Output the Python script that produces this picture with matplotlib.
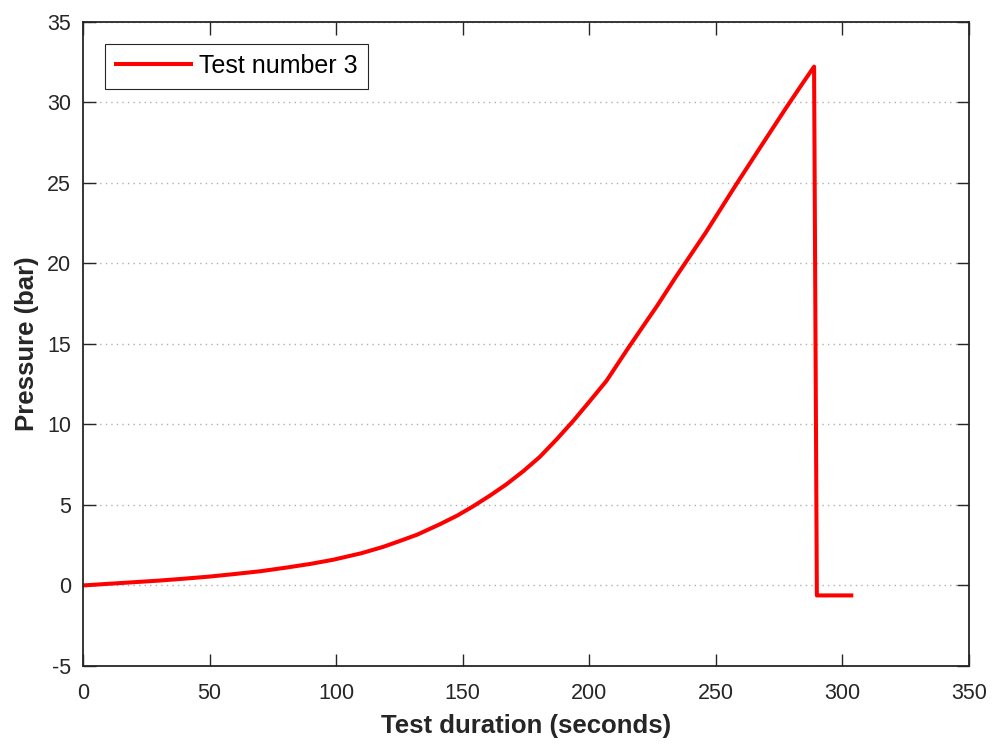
import matplotlib
matplotlib.use("Agg")
import matplotlib.pyplot as plt

# Data
time_s = [0, 10, 20, 30, 40, 50, 60, 70, 80, 90, 99, 110, 118.5, 125, 132, 141,
          148, 154, 161, 167.3, 174, 180.4, 187, 193.6, 200, 206.8, 214.8, 220,
          227, 234, 246, 258.3, 268, 278, 284, 288.8, 289.9, 303.5]
pressure_bar = [0, 0.1, 0.2, 0.3, 0.42, 0.55, 0.71, 0.88, 1.1, 1.34, 1.6, 2.0,
                2.39, 2.75, 3.15, 3.8, 4.35, 4.9, 5.6, 6.28, 7.1, 7.97, 9.05, 10.2,
                11.4, 12.7, 14.6, 15.8, 17.4, 19.1, 21.9, 24.95, 27.3, 29.7, 31.1,
                32.2, -0.62, -0.62]
series_label = "Test number 3"
x_ticks = [0, 50, 100, 150, 200, 250, 300, 350]
y_ticks = [-5, 0, 5, 10, 15, 20, 25, 30, 35]

plt.rcParams['font.family'] = ['Liberation Sans', 'DejaVu Sans']
plt.rcParams['axes.unicode_minus'] = False
txt = '#262626'

fig = plt.figure(figsize=(9.93, 7.44), dpi=100)
ax = fig.add_axes([83/993, 1-666/744, 886/993, 644.5/744])

ax.plot(time_s, pressure_bar, color='#ff0000', lw=2.9, label=series_label,
        solid_joinstyle='round')

ax.set_xlim(0, 350)
ax.set_ylim(-5, 35)
ax.set_xticks(x_ticks)
ax.set_yticks(y_ticks)
ax.yaxis.grid(True, linestyle=(0, (1, 3)), color='#b0b0b0', lw=1.0)
ax.set_axisbelow(True)

ax.tick_params(direction='in', length=9, width=1.0, colors=txt, labelsize=15.5,
               top=True, right=True)
ax.tick_params(axis='x', pad=12.5)
ax.tick_params(axis='y', pad=8.5)
for s in ax.spines.values():
    s.set_color(txt)
    s.set_linewidth(1.3)

ax.set_xlabel('Test duration (seconds)', fontsize=18.5, fontweight='bold', color=txt, labelpad=7)
ax.set_ylabel('Pressure (bar)', fontsize=18.5, fontweight='bold', color=txt, labelpad=5.5)

leg = ax.legend(loc='upper left', bbox_to_anchor=(22/886, 1-22/644.5), borderaxespad=0,
                fancybox=False, edgecolor='#262626', fontsize=18, handlelength=3.0,
                handletextpad=0.35, borderpad=0.42, framealpha=1)
leg.get_frame().set_linewidth(0.8)
for t in leg.get_texts():
    t.set_color('black')

fig.savefig('out.png', dpi=100)
